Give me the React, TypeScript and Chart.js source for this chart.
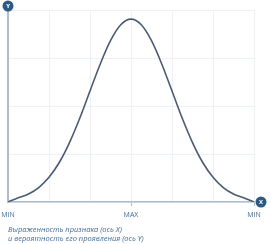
import React, { useEffect, useRef } from "react";
import { Chart, registerables } from "chart.js";

Chart.register(...registerables);

// x positions in standard deviations from the mean (MAX at 0)
const xPositions = [-3, -2.75, -2.5, -2.25, -2, -1.75, -1.5, -1.25, -1, -0.75, -0.5, -0.25, 0, 0.25, 0.5, 0.75, 1, 1.25, 1.5, 1.75, 2, 2.25, 2.5, 2.75, 3];
// probability (share of peak, %)
const probability = [0, 2.3, 4.4, 7.9, 13.5, 21.6, 32.5, 45.8, 60.7, 75.5, 88.2, 96.9, 100, 96.9, 88.2, 75.5, 60.7, 45.8, 32.5, 21.6, 13.5, 7.9, 4.4, 2.3, 0];
const tickLabels: Record<string, string> = { "-3": "MIN", "0": "MAX", "3": "MIN" };
const captionLines = ["Выраженность признака (ось X)", "и вероятность его проявления (ось Y)"];

const AXIS = "#aebccb";
const GRID = "#eef1f4";
const TEXT = "#3f6c96";
const BADGE = "#2d5985";

const badges = {
  id: "badges",
  afterDraw(chart: any) {
    const { ctx, chartArea } = chart;
    const draw = (x: number, y: number, t: string) => {
      ctx.save();
      ctx.beginPath();
      ctx.arc(x, y, 5.5, 0, Math.PI * 2);
      ctx.fillStyle = BADGE;
      ctx.fill();
      ctx.fillStyle = "#ffffff";
      ctx.font = "bold 6px 'Open Sans'";
      ctx.textAlign = "center";
      ctx.textBaseline = "middle";
      ctx.fillText(t, x, y + 0.5);
      ctx.restore();
    };
    draw(chartArea.left, 6, "Y");
    draw(chartArea.right + 7, chartArea.bottom, "X");
  },
};

export default function App() {
  const ref = useRef<HTMLCanvasElement>(null);
  useEffect(() => {
    document.body.style.margin = "0";
    const chart = new Chart(ref.current!, {
      type: "line",
      data: {
        datasets: [
          {
            data: xPositions.map((x, i) => ({ x, y: probability[i] })),
            borderColor: "#4b5b73",
            borderWidth: 1.6,
            pointRadius: 0,
            cubicInterpolationMode: "monotone",
            fill: false,
          },
        ],
      },
      options: {
        animation: false,
        responsive: false,
        maintainAspectRatio: false,
        layout: { padding: { left: 8, right: 16, top: 10, bottom: 0 } },
        plugins: { legend: { display: false }, tooltip: { enabled: false } },
        scales: {
          x: {
            type: "linear",
            min: -3,
            max: 3,
            afterFit: (s: any) => {
              s.height = 42;
              s.paddingLeft = 0;
              s.paddingRight = 0;
            },
            ticks: {
              stepSize: 1,
              autoSkip: false,
              maxRotation: 0,
              padding: 5,
              color: TEXT,
              font: { family: "'Open Sans'", size: 7 },
              callback: (v: any) => tickLabels[String(v)] ?? "",
            },
            grid: {
              color: GRID,
              lineWidth: 1,
              tickLength: 4,
              tickColor: (c: any) => (c.tick && (c.tick.value === 0 || c.tick.value === 3) ? AXIS : "rgba(0,0,0,0)"),
            },
            border: { display: true, color: AXIS, width: 1.5 },
            title: {
              display: true,
              text: captionLines,
              align: "start",
              color: TEXT,
              font: { family: "'Open Sans'", size: 7.5, style: "italic", lineHeight: 1.25 },
              padding: { top: 0, bottom: 0 },
            },
          },
          y: {
            min: 0,
            max: 105,
            afterFit: (s: any) => {
              s.width = 0;
            },
            ticks: { display: false, stepSize: 26.25 },
            grid: { color: GRID, lineWidth: 1, drawTicks: false },
            border: { display: true, color: AXIS, width: 2 },
          },
        },
      },
      plugins: [badges],
    });
    return () => chart.destroy();
  }, []);
  return <canvas ref={ref} width={270} height={244} style={{ display: "block" }} />;
}
